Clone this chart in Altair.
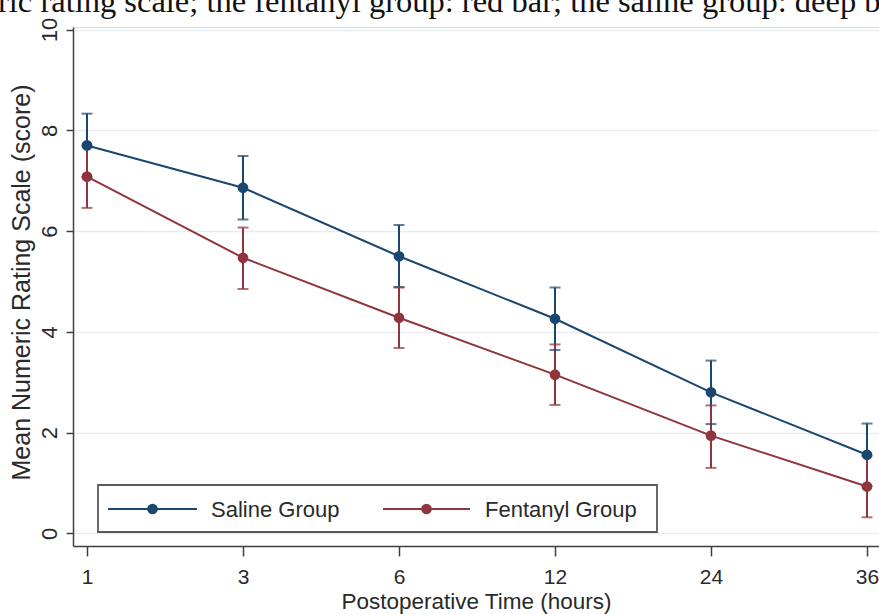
import json
import altair as alt
import pandas as pd

# ---- data ----
times = ["1", "3", "6", "12", "24", "36"]
groups = ["Saline Group", "Fentanyl Group"]
saline_mean = [7.70, 6.86, 5.50, 4.26, 2.80, 1.56]
saline_lower = [7.07, 6.23, 4.89, 3.64, 2.17, 0.94]
saline_upper = [8.33, 7.49, 6.12, 4.88, 3.43, 2.18]
fentanyl_mean = [7.08, 5.47, 4.28, 3.15, 1.94, 0.93]
fentanyl_lower = [6.46, 4.85, 3.68, 2.55, 1.30, 0.32]
fentanyl_upper = [7.70, 6.07, 4.88, 3.75, 2.54, 1.54]
colors = ["#1a476f", "#90353b"]
y_ticks = [0, 2, 4, 6, 8, 10]
caption = ["ric rating scale; the fentanyl group: red bar; the saline group: deep blue bar"]

rows = []
for g, m, lo, hi in [
    (groups[0], saline_mean, saline_lower, saline_upper),
    (groups[1], fentanyl_mean, fentanyl_lower, fentanyl_upper),
]:
    for i, t in enumerate(times):
        rows.append(dict(group=g, time=t, idx=i, mean=m[i], lower=lo[i], upper=hi[i]))
df = pd.DataFrame(rows)
cap_df = pd.DataFrame({"caption": caption})

FONT = "Liberation Sans"
TXT = "#2a2a2a"
AX = "#404040"

x_enc = alt.X(
    "idx:Q",
    scale=alt.Scale(domain=[-0.0897, 5.077], nice=False, zero=False),
    axis=alt.Axis(
        values=list(range(len(times))),
        labelExpr=json.dumps(times) + "[datum.value]",
        title="Postoperative Time (hours)",
        grid=False,
        labelFont=FONT, labelFontSize=21, labelColor=TXT, labelPadding=10,
        tickSize=10, tickColor=AX, tickWidth=1.5,
        domainColor=AX, domainWidth=1.5,
        titleFont=FONT, titleFontSize=22.5, titleFontWeight="normal", titleColor=TXT,
        titlePadding=3,
    ),
)
y_scale = alt.Scale(domain=[-0.25, 10.05], nice=False, zero=False)
y_axis = alt.Axis(
    values=y_ticks,
    labelAngle=-90, labelAlign="center", labelBaseline="bottom",
    labelFont=FONT, labelFontSize=22, labelColor=TXT, labelPadding=5,
    tickSize=7, tickColor=AX, tickWidth=1.5,
    domainColor=AX, domainWidth=1.5,
    grid=True, gridColor="#e6edf0", gridWidth=1.5,
    title="Mean Numeric Rating Scale (score)",
    titleFont=FONT, titleFontSize=25, titleFontWeight="normal", titleColor=TXT,
    titleAngle=-90, titleAlign="center", titleBaseline="middle",
    titleX=-52, titleY=255,
)
color_scale = alt.Scale(domain=groups, range=colors)
col = alt.Color("group:N", scale=color_scale, legend=None)

base = alt.Chart(df)

rules = base.mark_rule(strokeWidth=2).encode(
    x=x_enc,
    y=alt.Y("lower:Q", scale=y_scale, axis=y_axis),
    y2="upper:Q",
    color=col,
)
cap_lo = base.mark_tick(orient="horizontal", size=11, thickness=2).encode(
    x=x_enc, y=alt.Y("lower:Q", scale=y_scale), color=col,
)
cap_hi = base.mark_tick(orient="horizontal", size=11, thickness=2).encode(
    x=x_enc, y=alt.Y("upper:Q", scale=y_scale), color=col,
)
lines = base.mark_line(strokeWidth=2).encode(
    x=x_enc, y=alt.Y("mean:Q", scale=y_scale), color=col, detail="group:N",
)
points = base.mark_point(filled=True, size=115, opacity=1).encode(
    x=x_enc, y=alt.Y("mean:Q", scale=y_scale), color=col,
)

# ---- legend box (drawn by hand, Stata style) ----
box = alt.Chart(pd.DataFrame({"k": [0]})).mark_rect(
    fill="white", stroke="#5a5a5a", strokeWidth=1.8, clip=False
).encode(x=alt.value(25), x2=alt.value(584), y=alt.value(458), y2=alt.value(505))

legend_layers = []
leg_pos = [(35, 124, 138), (310, 397, 412)]
for (x0, x1, xt), g, c in zip(leg_pos, groups, colors):
    gdf = pd.DataFrame({"group": [g]})
    ch = alt.Chart(gdf)
    legend_layers.append(
        ch.mark_rule(strokeWidth=2, color=c, clip=False).encode(
            x=alt.value(x0), x2=alt.value(x1), y=alt.value(482)
        )
    )
    legend_layers.append(
        ch.mark_point(filled=True, size=115, opacity=1, color=c, clip=False).encode(
            x=alt.value((x0 + x1) / 2), y=alt.value(482)
        )
    )
    legend_layers.append(
        ch.mark_text(align="left", baseline="middle", font=FONT, fontSize=22,
                     color=TXT, clip=False).encode(
            text="group:N", x=alt.value(xt), y=alt.value(483)
        )
    )

caption_text = alt.Chart(cap_df).mark_text(
    align="left", baseline="alphabetic", font="Liberation Serif", fontSize=32.5,
    color="#111111", clip=False,
).encode(text="caption:N", x=alt.value(-75), y=alt.value(-15))

chart = alt.layer(
    rules, cap_lo, cap_hi, lines, points, box, *legend_layers, caption_text
).properties(
    width=806, height=519,
    autosize=alt.AutoSizeParams(type="none"),
    padding={"left": 73, "top": 27, "right": 0, "bottom": 68},
).configure_view(stroke=None).configure(background="white")

chart.save("out.html", embed_options={"renderer": "svg", "actions": False})
